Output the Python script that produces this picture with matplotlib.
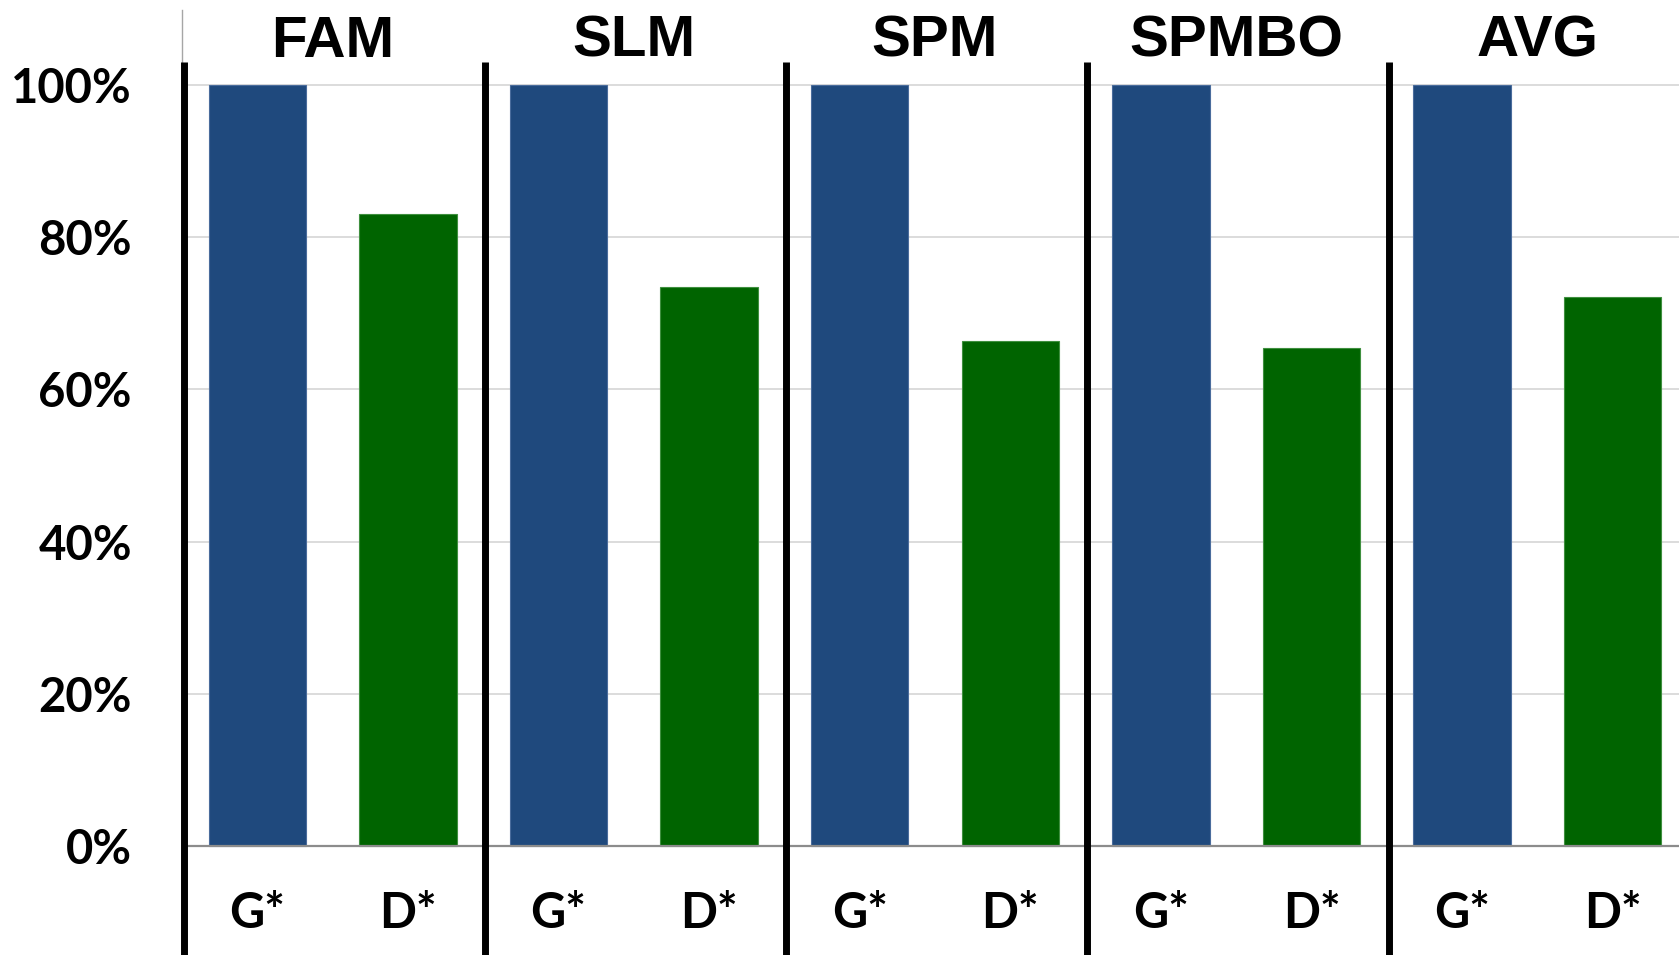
import matplotlib
matplotlib.use("Agg")
import matplotlib.pyplot as plt
import numpy as np

# Share of cases solved, per benchmark group and method
groups = ["FAM", "SLM", "SPM", "SPMBO", "AVG"]
methods = ["G*", "D*"]
g_values = [1.0, 1.0, 1.0, 1.0, 1.0]
d_values = [0.831, 0.734, 0.664, 0.655, 0.721]
y_ticks = [0.0, 0.2, 0.4, 0.6, 0.8, 1.0]
y_tick_labels = ["0%", "20%", "40%", "60%", "80%", "100%"]

BLUE = "#1F497D"
GREEN = "#006400"

W, H, DPI = 1679, 955, 100
fig = plt.figure(figsize=(W / DPI, H / DPI), dpi=DPI)
fig.patch.set_facecolor("white")

# Axes geometry in pixels
left_px, top_px = 182, 10
ax = fig.add_axes([left_px / W, 0, (W - left_px) / W, (H - top_px) / H])

slot_px = 150.6
unit_px = 761.0
zero_px = 846.0
ax.set_xlim(-0.5, -0.5 + (W - left_px) / slot_px)
ax.set_ylim(-(H - zero_px) / unit_px, (zero_px - top_px) / unit_px)

n = len(groups)
x_g = np.arange(n) * 2
x_d = x_g + 1
bar_w = 0.647

ax.bar(x_g, g_values, width=bar_w, color=BLUE, edgecolor="#4a6c9c",
       linewidth=0.8, zorder=2)
ax.bar(x_d, d_values, width=bar_w, color=GREEN, edgecolor="#3f8f3f",
       linewidth=0.8, zorder=2)

# Gridlines and baseline
for y in y_ticks[1:]:
    ax.axhline(y, color="#d9d9d9", lw=1.3, zorder=0)
ax.axhline(0, color="#8c8c8c", lw=1.6, zorder=3)

# Group separators
sep_x = x_g - 0.5 + 0.012
ax.vlines(sep_x, -0.3, 1.03, color="black", lw=5, zorder=4, clip_on=False)

# Spines
for s in ["top", "right", "bottom"]:
    ax.spines[s].set_visible(False)
ax.spines["left"].set_color("#a6a6a6")
ax.spines["left"].set_linewidth(1.0)

# Y ticks
ax.set_yticks(y_ticks)
ax.set_yticklabels(y_tick_labels, fontfamily="Lato", fontweight="bold",
                   fontsize=34, color="black")
ax.tick_params(axis="y", length=0, pad=36)
ax.set_xticks([])

# Method labels under each bar
label_y = -(913 - zero_px) / unit_px
for gi in range(n):
    for xi, m in zip((x_g[gi], x_d[gi]), methods):
        ax.text(xi, label_y, m, ha="center", va="center",
                fontfamily="Lato", fontweight="bold", fontsize=35,
                color="black")

# Group titles
title_y = (zero_px - 57) / unit_px
for gi, name in enumerate(groups):
    ax.text(x_g[gi] + 0.5, title_y, name, ha="center", va="baseline",
            fontfamily="Liberation Sans", fontweight="bold", fontsize=42,
            color="black", clip_on=False)

fig.savefig("out.png", dpi=DPI, facecolor="white")
